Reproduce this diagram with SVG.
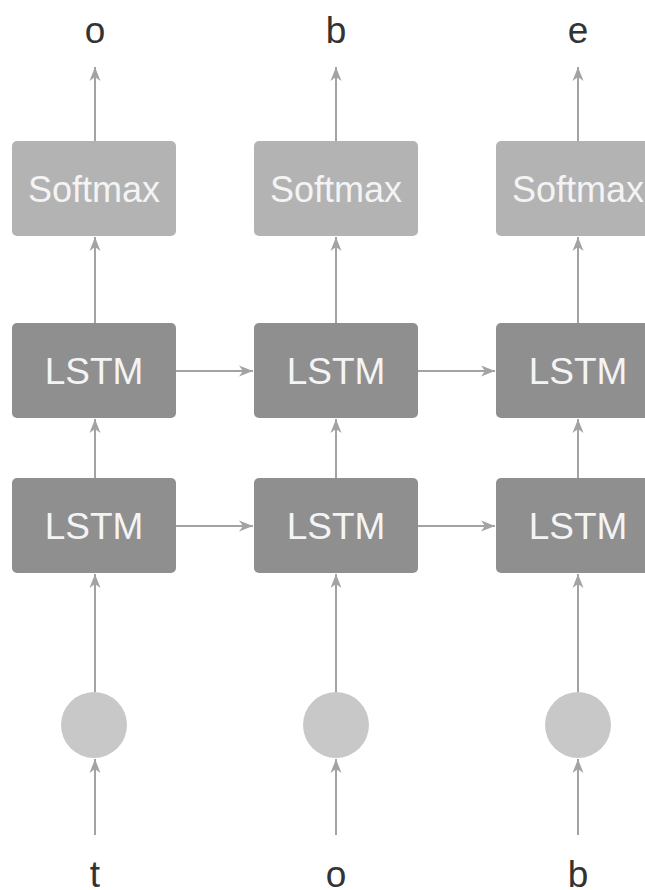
<svg xmlns="http://www.w3.org/2000/svg" width="645" height="890" viewBox="0 0 645 890">
<defs>
<style>
.sm{fill:#b3b3b3}
.ls{fill:#8f8f8f}
.in{fill:#c8c8c8}
.bt{font-family:"Liberation Sans",Arial,sans-serif;fill:#f4f4f4;text-anchor:middle}
.lb{font-family:"Liberation Sans",Arial,sans-serif;fill:#333;font-size:37px;text-anchor:middle}
.e{stroke:#a3a3a3;stroke-width:2;fill:none;marker-end:url(#ah)}
</style>
<marker id="ah" viewBox="-14 -6 15 12" refX="0" refY="0" markerWidth="15" markerHeight="12" markerUnits="userSpaceOnUse" orient="auto">
<path d="M0,0 L-14,-5.5 L-10,0 L-14,5.5 Z" fill="#a3a3a3"/>
</marker>
</defs>
<g id="edges">
<line class="e" x1="95" y1="141" x2="95" y2="67"/>
<line class="e" x1="336" y1="141" x2="336" y2="67"/>
<line class="e" x1="578" y1="141" x2="578" y2="67"/>
<line class="e" x1="95" y1="323" x2="95" y2="237"/>
<line class="e" x1="336" y1="323" x2="336" y2="237"/>
<line class="e" x1="578" y1="323" x2="578" y2="237"/>
<line class="e" x1="95" y1="478" x2="95" y2="419"/>
<line class="e" x1="336" y1="478" x2="336" y2="419"/>
<line class="e" x1="578" y1="478" x2="578" y2="419"/>
<line class="e" x1="95" y1="692" x2="95" y2="574"/>
<line class="e" x1="336" y1="692" x2="336" y2="574"/>
<line class="e" x1="578" y1="692" x2="578" y2="574"/>
<line class="e" x1="95" y1="835" x2="95" y2="759"/>
<line class="e" x1="336" y1="835" x2="336" y2="759"/>
<line class="e" x1="578" y1="835" x2="578" y2="759"/>
<line class="e" x1="176" y1="371" x2="253" y2="371"/>
<line class="e" x1="418" y1="371" x2="495" y2="371"/>
<line class="e" x1="176" y1="526" x2="253" y2="526"/>
<line class="e" x1="418" y1="526" x2="495" y2="526"/>
</g>
<g id="out1"><text class="lb" x="95" y="43">o</text></g>
<g id="out2"><text class="lb" x="336" y="43">b</text></g>
<g id="out3"><text class="lb" x="578" y="43">e</text></g>
<g id="softmax1"><rect class="sm" x="12" y="141" width="164" height="95" rx="5"/><text class="bt" x="94" y="202" font-size="36">Softmax</text></g>
<g id="softmax2"><rect class="sm" x="254" y="141" width="164" height="95" rx="5"/><text class="bt" x="336" y="202" font-size="36">Softmax</text></g>
<g id="softmax3"><rect class="sm" x="496" y="141" width="164" height="95" rx="5"/><text class="bt" x="578" y="202" font-size="36">Softmax</text></g>
<g id="lstm2_1"><rect class="ls" x="12" y="323" width="164" height="95" rx="5"/><text class="bt" x="94" y="384" font-size="37">LSTM</text></g>
<g id="lstm2_2"><rect class="ls" x="254" y="323" width="164" height="95" rx="5"/><text class="bt" x="336" y="384" font-size="37">LSTM</text></g>
<g id="lstm2_3"><rect class="ls" x="496" y="323" width="164" height="95" rx="5"/><text class="bt" x="578" y="384" font-size="37">LSTM</text></g>
<g id="lstm1_1"><rect class="ls" x="12" y="478" width="164" height="95" rx="5"/><text class="bt" x="94" y="539" font-size="37">LSTM</text></g>
<g id="lstm1_2"><rect class="ls" x="254" y="478" width="164" height="95" rx="5"/><text class="bt" x="336" y="539" font-size="37">LSTM</text></g>
<g id="lstm1_3"><rect class="ls" x="496" y="478" width="164" height="95" rx="5"/><text class="bt" x="578" y="539" font-size="37">LSTM</text></g>
<g id="in1"><circle class="in" cx="94" cy="725" r="33"/></g>
<g id="in2"><circle class="in" cx="336" cy="725" r="33"/></g>
<g id="in3"><circle class="in" cx="578" cy="725" r="33"/></g>
<g id="lbl1"><text class="lb" x="95" y="887">t</text></g>
<g id="lbl2"><text class="lb" x="336" y="887">o</text></g>
<g id="lbl3"><text class="lb" x="578" y="887">b</text></g>
</svg>
